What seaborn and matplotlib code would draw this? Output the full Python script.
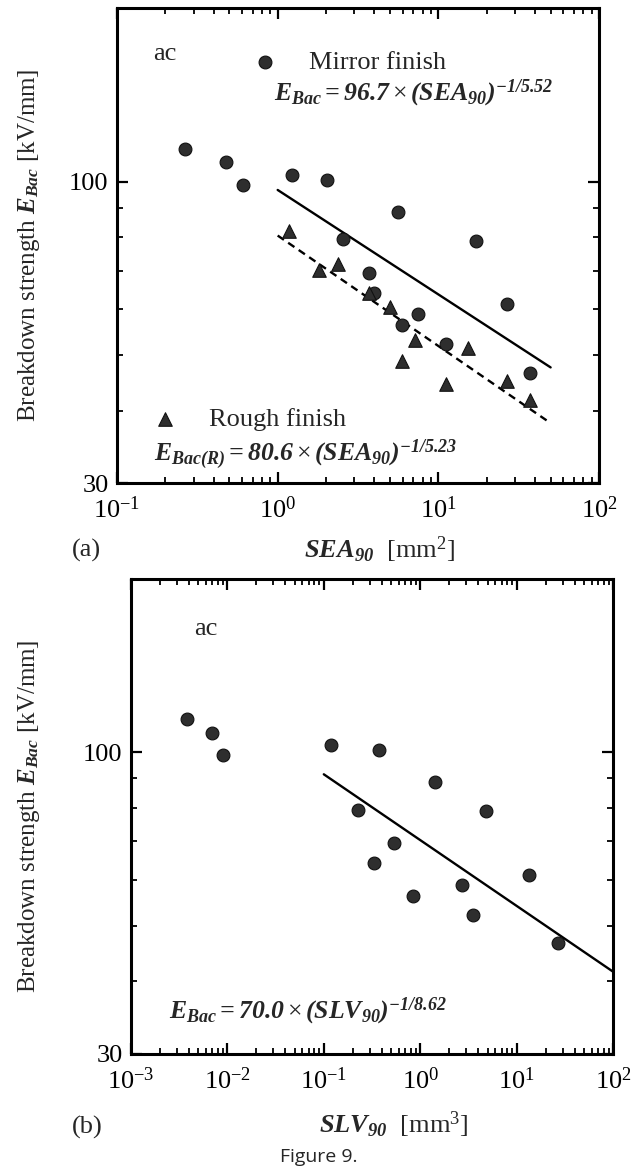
import numpy as np
import pandas as pd
import matplotlib
matplotlib.use("Agg")
import matplotlib.pyplot as plt
import seaborn as sns
from matplotlib.ticker import LogLocator, NullFormatter, LogFormatterSciNotation, FixedLocator, FixedFormatter

# ---------------- data ----------------
mirror_E = [114, 108, 98.7, 102.7, 100.8, 88.6, 79.4, 78.9, 69.5, 64.2, 58.9, 56.3, 52.2, 61.2, 46.6]
mirror_SEA = [0.265, 0.48, 0.61, 1.23, 2.04, 5.65, 2.55, 17.2, 3.7, 4.0, 7.5, 5.9, 11.1, 26.7, 37]
mirror_SLV = [0.0038, 0.0069, 0.0090, 0.12, 0.377, 1.41, 0.229, 4.82, 0.54, 0.332, 2.71, 0.84, 3.53, 13.3, 26.9]
rough_SEA = [1.17, 1.8, 2.37, 3.7, 5.0, 5.9, 7.2, 11.1, 15.4, 26.7, 37]
rough_E = [82.0, 70.1, 71.8, 64.0, 60.5, 48.8, 53.1, 44.6, 51.5, 45.0, 41.8]
fit_mirror_SEA = [1.0, 50.0]
fit_mirror_E = [96.7, 47.6]
fit_rough_SEA = [1.0, 50.0]
fit_rough_E = [80.6, 38.1]
fit_SLV = [0.1, 100.0]
fit_SLV_E = [91.5, 41.6]
y_tick_values = [30, 100]
y_tick_labels = ["30", "100"]
y_minor_values = [40, 50, 60, 70, 80, 90]

# ---------------- style ----------------
sns.set_theme(style="ticks")
plt.rcParams["font.family"] = ["Liberation Serif", "DejaVu Serif"]
plt.rcParams["mathtext.fontset"] = "custom"
plt.rcParams["mathtext.rm"] = "Liberation Serif"
plt.rcParams["mathtext.it"] = "Liberation Serif:italic"
plt.rcParams["mathtext.bf"] = "Liberation Serif:italic:bold"
plt.rcParams["axes.unicode_minus"] = False

FS = 19
dpi = 100
fig = plt.figure(figsize=(637 / dpi, 1173 / dpi), dpi=dpi)
fig.patch.set_facecolor("white")

W, H = 637.0, 1173.0
ax_a = fig.add_axes([117 / W, 1 - 483 / H, 482 / W, 475 / H])
ax_b = fig.add_axes([131 / W, 1 - 1053.5 / H, 482 / W, 475 / H])

df_m = pd.DataFrame({"SEA": mirror_SEA, "SLV": mirror_SLV, "E": mirror_E})
df_r = pd.DataFrame({"SEA": rough_SEA, "E": rough_E})
df_fm = pd.DataFrame({"x": fit_mirror_SEA, "E": fit_mirror_E})
df_fr = pd.DataFrame({"x": fit_rough_SEA, "E": fit_rough_E})
df_fb = pd.DataFrame({"x": fit_SLV, "E": fit_SLV_E})

mk_face = "#2e2e2e"
mk_edge = "#111111"


def style_axes(ax, xlim):
    ax.set_xscale("log")
    ax.set_yscale("log")
    ax.set_xlim(*xlim)
    ax.set_ylim(30, 200)
    ax.xaxis.set_major_locator(LogLocator(base=10, numticks=20))
    ax.xaxis.set_minor_locator(LogLocator(base=10, subs=np.arange(2, 10), numticks=20))
    ax.xaxis.set_major_formatter(LogFormatterSciNotation())
    ax.xaxis.set_minor_formatter(NullFormatter())
    ax.yaxis.set_major_locator(FixedLocator(y_tick_values))
    ax.yaxis.set_major_formatter(FixedFormatter(y_tick_labels))
    ax.yaxis.set_minor_locator(FixedLocator(y_minor_values))
    ax.yaxis.set_minor_formatter(NullFormatter())
    ax.tick_params(which="both", direction="in", top=True, right=True, colors="black")
    ax.tick_params(which="major", length=8, width=1.6, labelsize=FS)
    ax.tick_params(which="minor", length=4.5, width=1.3)
    ax.tick_params(axis="x", which="major", pad=10)
    ax.tick_params(axis="y", which="major", pad=6)
    for s in ax.spines.values():
        s.set_linewidth(2.2)
        s.set_color("black")
    ax.set_facecolor("white")
    ax.grid(False)


# ---------------- panel (a) ----------------
sns.scatterplot(data=df_m, x="SEA", y="E", ax=ax_a, marker="o", s=85,
                color=mk_face, edgecolor=mk_edge, linewidth=0.8, legend=False, zorder=3)
h_mirror = ax_a.collections[-1]
sns.scatterplot(data=df_r, x="SEA", y="E", ax=ax_a, marker="^", s=95,
                color=mk_face, edgecolor=mk_edge, linewidth=0.8, legend=False, zorder=3)
h_rough = ax_a.collections[-1]
sns.lineplot(data=df_fm, x="x", y="E", ax=ax_a, color="black", linewidth=1.7, legend=False)
sns.lineplot(data=df_fr, x="x", y="E", ax=ax_a, color="black", linewidth=1.7,
             linestyle=(0, (3.2, 2.2)), legend=False)
style_axes(ax_a, (0.1, 100))

leg1 = ax_a.legend(handles=[h_mirror], labels=["Mirror finish"], loc="center left",
                   bbox_to_anchor=(0.280, 0.885), frameon=False, borderaxespad=0,
                   borderpad=0, handlelength=1.0, handletextpad=1.15, fontsize=FS)
ax_a.add_artist(leg1)
ax_a.legend(handles=[h_rough], labels=["Rough finish"], loc="center left",
            bbox_to_anchor=(0.073, 0.134), frameon=False, borderaxespad=0,
            borderpad=0, handlelength=1.0, handletextpad=1.15, fontsize=FS)

ax_a.text(0.074, 0.89, "ac", transform=ax_a.transAxes, fontsize=FS, va="baseline", ha="left")
ax_a.text(0.326, 0.806, r"$\mathbf{E_{Bac}=96.7}\times\mathbf{(SEA_{90})^{-1/5.52}}$",
          transform=ax_a.transAxes, fontsize=18.5, va="baseline", ha="left")
ax_a.text(0.076, 0.046, r"$\mathbf{E_{Bac(R)}=80.6}\times\mathbf{(SEA_{90})^{-1/5.23}}$",
          transform=ax_a.transAxes, fontsize=18.5, va="baseline", ha="left")

ax_a.set_ylabel(r"Breakdown strength $\mathbf{E_{Bac}}$ [kV/mm]", fontsize=18)
ax_a.yaxis.set_label_coords(-0.155, 0.5)
ax_a.set_xlabel(r"$\mathbf{SEA_{90}}$  [mm$^2$]", fontsize=FS)
ax_a.xaxis.label.set_va("center")
ax_a.xaxis.set_label_coords(0.545, -0.14)

# ---------------- panel (b) ----------------
sns.scatterplot(data=df_m, x="SLV", y="E", ax=ax_b, marker="o", s=85,
                color=mk_face, edgecolor=mk_edge, linewidth=0.8, legend=False, zorder=3)
sns.lineplot(data=df_fb, x="x", y="E", ax=ax_b, color="black", linewidth=1.7, legend=False)
style_axes(ax_b, (0.001, 100))

ax_b.text(0.13, 0.882, "ac", transform=ax_b.transAxes, fontsize=FS, va="baseline", ha="left")
ax_b.text(0.079, 0.074, r"$\mathbf{E_{Bac}=70.0}\times\mathbf{(SLV_{90})^{-1/8.62}}$",
          transform=ax_b.transAxes, fontsize=18.5, va="baseline", ha="left")

ax_b.set_ylabel(r"Breakdown strength $\mathbf{E_{Bac}}$ [kV/mm]", fontsize=18)
ax_b.yaxis.set_label_coords(-0.185, 0.5)
ax_b.set_xlabel(r"$\mathbf{SLV_{90}}$  [mm$^3$]", fontsize=FS)
ax_b.xaxis.label.set_va("center")
ax_b.xaxis.set_label_coords(0.545, -0.15)

# ---------------- panel tags and caption ----------------
fig.text(72 / W, 1 - 550 / H, "(a)", fontsize=FS, ha="left", va="center")
fig.text(72 / W, 1 - 1127 / H, "(b)", fontsize=FS, ha="left", va="center")
fig.text(0.5, 1 - 1157 / H, "Figure 9.", fontsize=14, ha="center", va="center",
         family=["Open Sans", "DejaVu Sans"])

fig.savefig("out.png", dpi=dpi, facecolor="white")
